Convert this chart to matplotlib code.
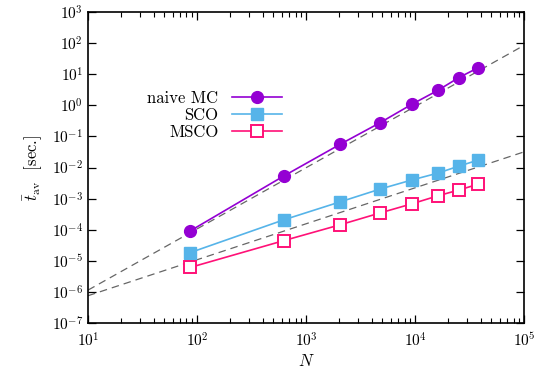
import matplotlib
matplotlib.use("Agg")
import matplotlib.pyplot as plt
from matplotlib.ticker import LogLocator, NullLocator

plt.rcParams["font.family"] = "serif"
plt.rcParams["font.serif"] = ["cmr10", "DejaVu Serif"]
plt.rcParams["mathtext.fontset"] = "cm"
plt.rcParams["axes.formatter.use_mathtext"] = True

# system sizes
n_vals = [87, 627, 2055, 4805, 9290, 16100, 25200, 37700]

# average time per run [sec.]
t_naive = [9.3e-5, 5.4e-3, 5.6e-2, 0.28, 1.07, 3.0, 7.8, 16.0]
t_sco = [1.86e-5, 2.1e-4, 7.9e-4, 2.05e-3, 3.97e-3, 6.6e-3, 1.11e-2, 1.73e-2]
t_msco = [6.2e-6, 4.5e-5, 1.45e-4, 3.5e-4, 6.8e-4, 1.23e-3, 1.9e-3, 2.9e-3]

# guide lines (end points)
guide_n = [10, 1e5]
guide_steep = [1.15e-6, 85]
guide_flat = [7.6e-7, 3.2e-2]

fig = plt.figure(figsize=(5.5, 3.74), dpi=100)
ax = fig.add_axes([0.16, 0.136, 0.793, 0.832])

ax.plot(guide_n, guide_steep, color="#666666", lw=0.9, dashes=(6, 4))
ax.plot(guide_n, guide_flat, color="#666666", lw=0.9, dashes=(6, 4))

ax.plot(n_vals, t_naive, color="#9400d3", lw=1.2, marker="o", ms=8.5,
        label="naive MC")
ax.plot(n_vals, t_sco, color="#56b4e9", lw=1.2, marker="s", ms=8,
        label="SCO")
ax.plot(n_vals, t_msco, color="#ff1177", lw=1.2, marker="s", ms=8,
        mfc="white", mew=1.4, label="MSCO")

ax.set_xscale("log")
ax.set_yscale("log")
ax.set_xlim(10, 1e5)
ax.set_ylim(1e-7, 1e3)
ax.yaxis.set_major_locator(LogLocator(base=10, numticks=20))
ax.yaxis.set_minor_locator(NullLocator())
ax.xaxis.set_minor_locator(LogLocator(base=10, subs=range(2, 10), numticks=20))

ax.tick_params(which="both", direction="in", top=True, right=True, labelsize=11)
ax.tick_params(which="major", length=6, width=0.9)
ax.tick_params(which="minor", length=3.5, width=0.8)
ax.tick_params(axis="x", pad=6)
for s in ax.spines.values():
    s.set_linewidth(1.2)

ax.set_xlabel("$N$", fontsize=12, labelpad=2)
ax.set_ylabel(r"$\bar{t}_{\rm av}$  [sec.]", fontsize=12, labelpad=5)

ax.legend(loc="center", bbox_to_anchor=(0.29, 0.667), frameon=False,
          markerfirst=False, fontsize=12, handlelength=3.0,
          labelspacing=0.1, handletextpad=0.8)
for t in ax.get_legend().get_texts():
    t.set_ha("right")
ax.get_legend()._legend_box.align = "right"

fig.savefig("out.png", dpi=100)
